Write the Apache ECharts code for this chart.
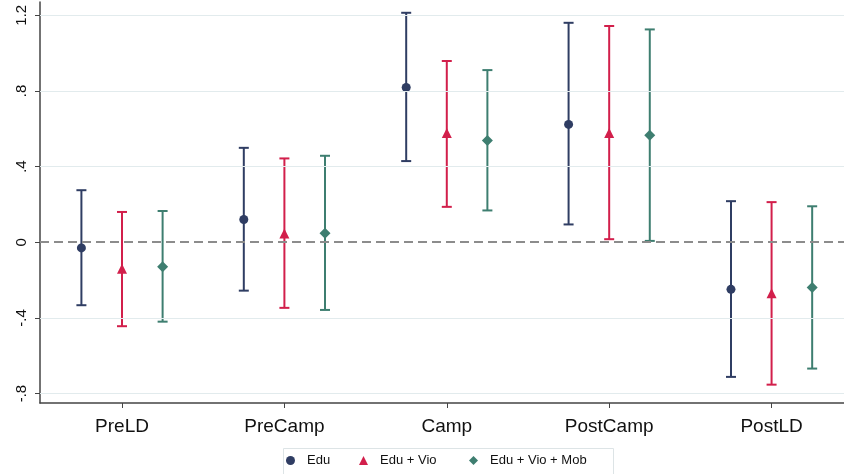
<!DOCTYPE html>
<html>
<head>
<meta charset="utf-8">
<script src="https://cdn.jsdelivr.net/npm/echarts@6/dist/echarts.min.js"></script>
<style>html,body{margin:0;padding:0;background:#fff}#c{width:844px;height:474px}</style>
</head>
<body>
<div id="c"></div>
<script>
const categories = ['PreLD', 'PreCamp', 'Camp', 'PostCamp', 'PostLD'];
const seriesNames = ['Edu', 'Edu + Vio', 'Edu + Vio + Mob'];
const eduEst = [-0.03, 0.12, 0.818, 0.623, -0.249];
const eduLo  = [-0.333, -0.256, 0.429, 0.094, -0.712];
const eduHi  = [0.275, 0.499, 1.213, 1.16, 0.217];
const vioEst = [-0.14, 0.046, 0.577, 0.578, -0.27];
const vioLo  = [-0.444, -0.347, 0.187, 0.016, -0.753];
const vioHi  = [0.16, 0.443, 0.958, 1.143, 0.212];
const mobEst = [-0.13, 0.048, 0.538, 0.566, -0.24];
const mobLo  = [-0.42, -0.358, 0.168, 0.007, -0.668];
const mobHi  = [0.165, 0.457, 0.91, 1.125, 0.19];
const yTicks = [-0.8, -0.4, 0, 0.4, 0.8, 1.2];
const yTickLabels = ['-.8', '-.4', '0', '.4', '.8', '1.2'];

const colors = ['#2f3d63', '#d21f4b', '#3e7e70'];
const symbols = ['circle', 'triangle', 'diamond'];
const symbolSizes = [9, 10, 11];
const offsets = [-0.25, 0, 0.25];
const groups = [[eduEst, eduLo, eduHi], [vioEst, vioLo, vioHi], [mobEst, mobLo, mobHi]];
const catPos = categories.map((c, i) => i + 1);

const series = [];
groups.forEach((g, k) => {
  series.push({
    name: seriesNames[k] + ' CI',
    type: 'custom',
    silent: true,
    z: 2,
    encode: { x: 0, y: [1, 2] },
    data: categories.map((c, i) => [catPos[i] + offsets[k], g[1][i], g[2][i]]),
    renderItem: function (params, api) {
      const x = api.value(0);
      const lo = api.coord([x, api.value(1)]);
      const hi = api.coord([x, api.value(2)]);
      const hw = 5;
      const st = { stroke: colors[k], lineWidth: 2 };
      return {
        type: 'group',
        children: [
          { type: 'line', shape: { x1: lo[0], y1: lo[1], x2: hi[0], y2: hi[1] }, style: st },
          { type: 'line', shape: { x1: lo[0] - hw, y1: lo[1], x2: lo[0] + hw, y2: lo[1] }, style: st },
          { type: 'line', shape: { x1: hi[0] - hw, y1: hi[1], x2: hi[0] + hw, y2: hi[1] }, style: st }
        ]
      };
    }
  });
});
groups.forEach((g, k) => {
  series.push({
    name: seriesNames[k],
    type: 'scatter',
    z: 3,
    symbol: symbols[k],
    symbolSize: symbolSizes[k],
    itemStyle: { color: colors[k], opacity: 1 },
    data: categories.map((c, i) => [catPos[i] + offsets[k], g[0][i]]),
    markLine: k === 0 ? {
      silent: true, symbol: 'none', label: { show: false },
      data: yTicks.filter(v => v !== 0).map(v => ({ yAxis: v, lineStyle: { color: '#e2ebed', width: 1, type: 'solid' } }))
        .concat([{ yAxis: 0, lineStyle: { color: '#8c8c8c', width: 2, type: [9, 5] } }])
    } : undefined
  });
});

const legendLefts = [281, 354, 464];
const legends = seriesNames.map((n, k) => ({
  left: legendLefts[k], top: 449,
  data: [{ name: n, icon: symbols[k] }],
  itemWidth: 9, itemHeight: 9,
  selectedMode: false,
  textStyle: { fontFamily: 'Liberation Sans', fontSize: 13, color: '#111', padding: [0, 0, 0, 7] }
}));

const chart = echarts.init(document.getElementById('c'), null, { renderer: 'canvas' });
chart.setOption({
  animation: false,
  backgroundColor: '#fff',
  grid: { left: 40, right: 0, top: 2, bottom: 71, containLabel: false },
  xAxis: {
    type: 'value', min: 0.495, max: 5.446,
    splitLine: { show: false },
    axisLine: { onZero: false, lineStyle: { color: '#444', width: 1.5 } },
    axisTick: { customValues: catPos, length: 5, lineStyle: { color: '#444', width: 1 } },
    axisLabel: {
      customValues: catPos, margin: 14,
      formatter: v => categories[Math.round(v) - 1],
      fontFamily: 'Liberation Sans', fontSize: 19, color: '#111'
    }
  },
  yAxis: {
    type: 'value', min: -0.85, max: 1.27,
    splitLine: { show: false },
    axisLine: { show: true, onZero: false, lineStyle: { color: '#444', width: 1.5 } },
    axisTick: { show: true, customValues: yTicks, length: 5, lineStyle: { color: '#444', width: 1 } },
    axisLabel: {
      customValues: yTicks, rotate: 90, margin: 11,
      formatter: v => yTickLabels[yTicks.findIndex(t => Math.abs(t - v) < 1e-9)],
      fontFamily: 'Liberation Sans', fontSize: 15, color: '#111'
    }
  },
  legend: legends,
  graphic: [{
    type: 'rect', left: 281, top: 446, silent: true,
    shape: { width: 330, height: 27 },
    style: { fill: 'none', stroke: '#dde4e6', lineWidth: 1 }
  }],
  series: series
});
</script>
</body>
</html>
